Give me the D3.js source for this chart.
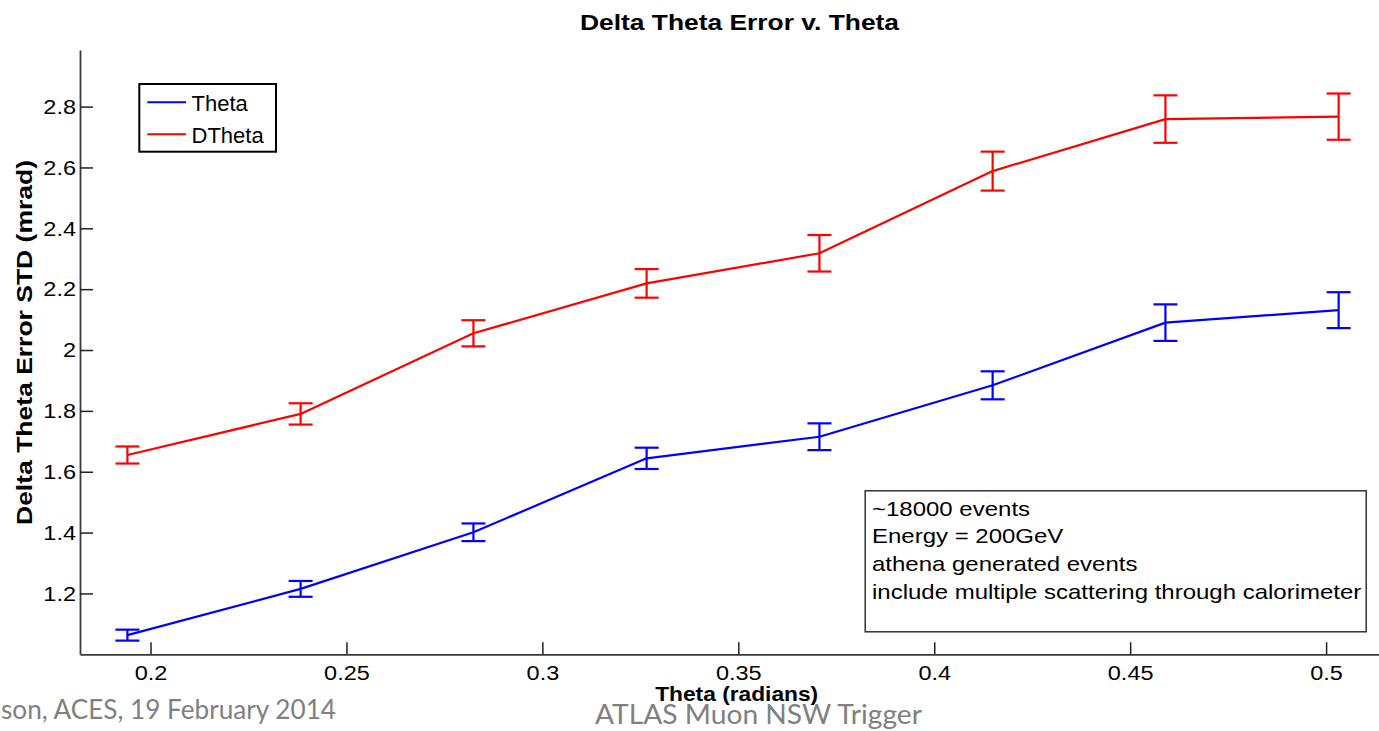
<!DOCTYPE html>
<html><head><meta charset="utf-8">
<script src="https://cdn.jsdelivr.net/npm/d3@7"></script>
<style>body{margin:0;background:#fff}svg{display:block}</style>
</head><body><svg id="c" width="1379" height="731"></svg>
<script>
const theta = [0.1941, 0.2383, 0.2824, 0.3266, 0.3707, 0.4149, 0.4590, 0.5032];
const thetaStd = [1.063, 1.215, 1.401, 1.644, 1.715, 1.884, 2.090, 2.131];
const thetaErr = [0.018, 0.026, 0.029, 0.035, 0.044, 0.046, 0.060, 0.059];
const dthetaStd = [1.655, 1.790, 2.055, 2.219, 2.318, 2.588, 2.759, 2.767];
const dthetaErr = [0.028, 0.035, 0.043, 0.047, 0.060, 0.064, 0.078, 0.076];
const xTicks = [0.2, 0.25, 0.3, 0.35, 0.4, 0.45, 0.5];
const yTicks = [1.2, 1.4, 1.6, 1.8, 2.0, 2.2, 2.4, 2.6, 2.8];
const seriesNames = ["Theta", "DTheta"];
const seriesColors = ["#0000ff", "#ff0000"];
const noteLines = ["~18000 events", "Energy = 200GeV", "athena generated events", "include multiple scattering through calorimeter"];
const titleText = "Delta Theta Error v. Theta";
const xLabel = "Theta (radians)";
const yLabel = "Delta Theta Error STD (mrad)";
const footerLeft = "son, ACES, 19 February 2014";
const footerCenter = "ATLAS Muon NSW Trigger";

const FONT = "'Liberation Sans', Arial, Helvetica, sans-serif";
const svg = d3.select("#c");
svg.append("rect").attr("width", 1379).attr("height", 731).attr("fill", "#fff");

const x = d3.scaleLinear().domain([0.182, 0.5135]).range([80, 1379]);
const y = d3.scaleLinear().domain([1.0, 2.986]).range([654.3, 50]);

// axes
const gy = svg.append("g").attr("transform", "translate(80,0)")
  .call(d3.axisLeft(y).tickValues(yTicks).tickSizeInner(-13).tickSizeOuter(0).tickPadding(4).tickFormat(d3.format("~g")));
const gx = svg.append("g").attr("transform", "translate(0,654.3)")
  .call(d3.axisBottom(x).tickValues(xTicks).tickSizeInner(-12).tickSizeOuter(0).tickPadding(11).tickFormat(d3.format("~g")));
[gy, gx].forEach(g => {
  g.select(".domain").attr("stroke", "#3a3a3a").attr("stroke-width", 1.8);
  g.selectAll(".tick line").attr("stroke", "#222").attr("stroke-width", 1.5);
  g.selectAll(".tick text").attr("fill", "#000").style("font-family", FONT).style("font-size", "21px");
});
gy.selectAll(".tick text").attr("x", -4 / 1.12).attr("transform", "scale(1.12,1)");
gx.selectAll(".tick text").attr("transform", "scale(1.12,1)");

// series
const series = [
  {name: seriesNames[0], color: seriesColors[0], vals: thetaStd, errs: thetaErr},
  {name: seriesNames[1], color: seriesColors[1], vals: dthetaStd, errs: dthetaErr}
];
const line = d3.line().x(d => x(d.t)).y(d => y(d.v));
series.forEach(s => {
  const pts = theta.map((t, i) => ({t, v: s.vals[i], e: s.errs[i]}));
  const g = svg.append("g");
  g.append("path").datum(pts).attr("d", line).attr("fill", "none")
    .attr("stroke", s.color).attr("stroke-width", 2.2).attr("stroke-linejoin", "round");
  const cap = 12;
  const eb = g.selectAll(".eb").data(pts).join("g").attr("stroke", s.color).attr("stroke-width", 2.2);
  eb.append("line").attr("x1", d => x(d.t)).attr("x2", d => x(d.t))
    .attr("y1", d => y(d.v - d.e)).attr("y2", d => y(d.v + d.e));
  eb.append("line").attr("x1", d => x(d.t) - cap).attr("x2", d => x(d.t) + cap)
    .attr("y1", d => y(d.v + d.e)).attr("y2", d => y(d.v + d.e));
  eb.append("line").attr("x1", d => x(d.t) - cap).attr("x2", d => x(d.t) + cap)
    .attr("y1", d => y(d.v - d.e)).attr("y2", d => y(d.v - d.e));
});

// legend
const lg = svg.append("g");
lg.append("rect").attr("x", 139.3).attr("y", 84).attr("width", 136.7).attr("height", 67.7)
  .attr("fill", "#fff").attr("stroke", "#000").attr("stroke-width", 2);
series.forEach((s, i) => {
  const yy = 102.3 + i * 32;
  lg.append("line").attr("x1", 147.3).attr("x2", 186).attr("y1", yy).attr("y2", yy)
    .attr("stroke", s.color).attr("stroke-width", 2);
  lg.append("text").attr("x", 191.5).attr("y", yy + 8.7).text(s.name)
    .style("font-family", FONT).style("font-size", "22px").attr("fill", "#000");
});

// annotation box
const ab = svg.append("g");
ab.append("rect").attr("x", 865.2).attr("y", 490.8).attr("width", 501).attr("height", 141)
  .attr("fill", "#fff").attr("stroke", "#333").attr("stroke-width", 1.5);
noteLines.forEach((t, i) => {
  ab.append("text").attr("transform", `translate(872,${515.5 + i * 27.8}) scale(1.2,1)`)
    .text(t).style("font-family", FONT).style("font-size", "20px").attr("fill", "#000");
});

// title & labels
svg.append("text").attr("x", 739.5).attr("y", 30).attr("text-anchor", "middle")
  .attr("textLength", 319).attr("lengthAdjust", "spacingAndGlyphs")
  .style("font-family", FONT).style("font-size", "22px").style("font-weight", "bold").text(titleText);
svg.append("text").attr("x", 736.7).attr("y", 701).attr("text-anchor", "middle")
  .attr("textLength", 163).attr("lengthAdjust", "spacingAndGlyphs")
  .style("font-family", FONT).style("font-size", "21px").style("font-weight", "bold").text(xLabel);
svg.append("text").attr("transform", "translate(32,342.5) rotate(-90)").attr("text-anchor", "middle")
  .attr("textLength", 365).attr("lengthAdjust", "spacingAndGlyphs")
  .style("font-family", FONT).style("font-size", "22px").style("font-weight", "bold").text(yLabel);

// slide footer
svg.append("text").attr("x", 1).attr("y", 718.5)
  .attr("textLength", 335).attr("lengthAdjust", "spacingAndGlyphs")
  .style("font-family", "Lato, 'Open Sans', sans-serif").style("font-size", "27px").attr("fill", "#808080").text(footerLeft);
svg.append("text").attr("x", 595).attr("y", 724)
  .attr("textLength", 327).attr("lengthAdjust", "spacingAndGlyphs")
  .style("font-family", "Lato, 'Open Sans', sans-serif").style("font-size", "27px").attr("fill", "#808080").text(footerCenter);
</script>
</body></html>
